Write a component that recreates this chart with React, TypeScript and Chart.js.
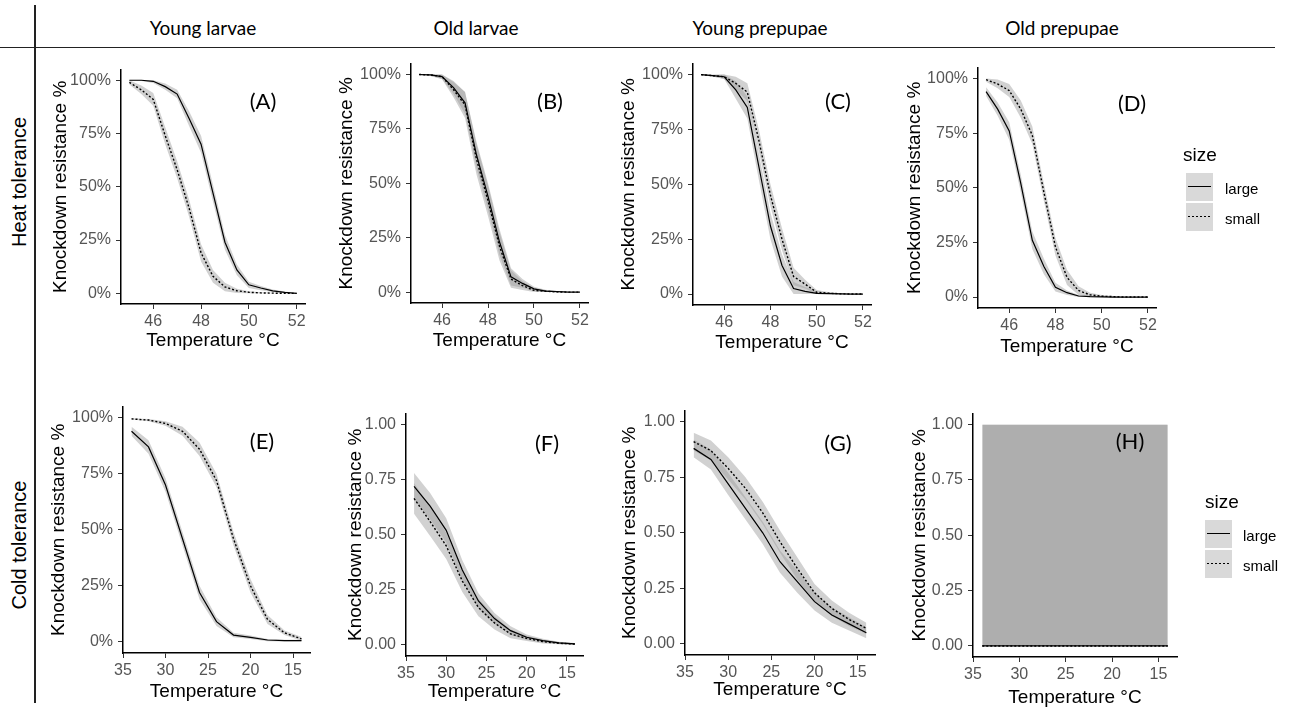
import React, { useEffect, useRef } from 'react';
import { Chart, registerables } from 'chart.js';

Chart.register(...registerables);

// ---------- data ----------
const heatTemps = [45, 45.5, 46, 46.5, 47, 47.5, 48, 48.5, 49, 49.5, 50, 50.5, 51, 51.5, 52];
const coldTemps = [34, 32, 30, 28, 26, 24, 22, 20, 18, 16, 14];
const heatTicks = [46, 48, 50, 52];
const coldTicks = [35, 30, 25, 20, 15];
const yTickValues = [0, 0.25, 0.5, 0.75, 1];
const percentLabels = ['0%', '25%', '50%', '75%', '100%'];
const decimalLabels = ['0.00', '0.25', '0.50', '0.75', '1.00'];
const columnHeaders = ['Young larvae', 'Old larvae', 'Young prepupae', 'Old prepupae'];
const rowHeaders = ['Heat tolerance', 'Cold tolerance'];
const legendLabels = ['large', 'small'];

// (A) heat, young larvae
const aLarge = [1.0, 1.0, 0.995, 0.97, 0.935, 0.82, 0.7, 0.47, 0.24, 0.11, 0.04, 0.025, 0.012, 0.005, 0.0];
const aLargeCI = [0.003, 0.004, 0.008, 0.015, 0.02, 0.035, 0.04, 0.04, 0.035, 0.025, 0.015, 0.01, 0.006, 0.004, 0.002];
const aSmall = [0.99, 0.955, 0.91, 0.74, 0.58, 0.4, 0.19, 0.08, 0.03, 0.012, 0.005, 0.002, 0.001, 0.0, 0.0];
const aSmallCI = [0.01, 0.02, 0.03, 0.04, 0.04, 0.04, 0.04, 0.03, 0.02, 0.01, 0.005, 0.003, 0.002, 0.001, 0.001];
// (B) heat, old larvae
const bLarge = [1.0, 0.998, 0.99, 0.94, 0.87, 0.63, 0.44, 0.23, 0.07, 0.04, 0.015, 0.005, 0.002, 0.0, 0.0];
const bLargeCI = [0.003, 0.005, 0.01, 0.03, 0.05, 0.06, 0.06, 0.06, 0.04, 0.02, 0.01, 0.006, 0.003, 0.001, 0.001];
const bSmall = [1.0, 0.998, 0.99, 0.93, 0.86, 0.61, 0.42, 0.21, 0.06, 0.03, 0.008, 0.004, 0.001, 0.0, 0.0];
const bSmallCI = [0.003, 0.005, 0.012, 0.035, 0.06, 0.07, 0.07, 0.065, 0.04, 0.02, 0.01, 0.006, 0.003, 0.001, 0.001];
// (C) heat, young prepupae
const cLarge = [1.0, 0.995, 0.99, 0.93, 0.85, 0.58, 0.31, 0.13, 0.025, 0.012, 0.003, 0.002, 0.001, 0.0, 0.0];
const cLargeCI = [0.003, 0.004, 0.01, 0.04, 0.05, 0.06, 0.06, 0.05, 0.03, 0.02, 0.01, 0.005, 0.003, 0.001, 0.001];
const cSmall = [1.0, 0.995, 0.99, 0.96, 0.92, 0.7, 0.45, 0.25, 0.08, 0.045, 0.008, 0.004, 0.001, 0.0, 0.0];
const cSmallCI = [0.003, 0.004, 0.01, 0.03, 0.04, 0.05, 0.05, 0.05, 0.04, 0.02, 0.01, 0.005, 0.003, 0.001, 0.001];
// (D) heat, old prepupae
const dLarge = [0.94, 0.86, 0.76, 0.52, 0.26, 0.14, 0.045, 0.02, 0.005, 0.002, 0.001, 0.0, 0.0, 0.0, 0.0];
const dLargeCI = [0.02, 0.03, 0.04, 0.04, 0.04, 0.035, 0.02, 0.01, 0.005, 0.003, 0.002, 0.001, 0.0, 0.0, 0.0];
const dSmall = [0.995, 0.975, 0.945, 0.86, 0.74, 0.48, 0.23, 0.09, 0.03, 0.01, 0.004, 0.002, 0.0, 0.0, 0.0];
const dSmallCI = [0.01, 0.02, 0.03, 0.04, 0.04, 0.04, 0.04, 0.035, 0.02, 0.01, 0.005, 0.003, 0.001, 0.0, 0.0];
// (E) cold, young larvae
const eLarge = [0.94, 0.87, 0.7, 0.46, 0.22, 0.09, 0.03, 0.02, 0.008, 0.005, 0.005];
const eLargeCI = [0.02, 0.03, 0.03, 0.03, 0.03, 0.02, 0.01, 0.008, 0.005, 0.004, 0.004];
const eSmall = [0.995, 0.99, 0.975, 0.94, 0.86, 0.72, 0.46, 0.25, 0.1, 0.04, 0.013];
const eSmallCI = [0.003, 0.005, 0.01, 0.02, 0.03, 0.03, 0.03, 0.03, 0.02, 0.01, 0.008];
// (F) cold, old larvae
const fLarge = [0.72, 0.63, 0.52, 0.34, 0.2, 0.12, 0.065, 0.035, 0.02, 0.01, 0.005];
const fLargeCI = [0.06, 0.06, 0.055, 0.045, 0.035, 0.025, 0.02, 0.012, 0.008, 0.005, 0.004];
const fSmall = [0.665, 0.56, 0.45, 0.29, 0.17, 0.1, 0.05, 0.03, 0.015, 0.008, 0.004];
const fSmallCI = [0.07, 0.065, 0.06, 0.05, 0.04, 0.03, 0.02, 0.012, 0.008, 0.005, 0.004];
// (G) cold, young prepupae
const gLarge = [0.88, 0.83, 0.72, 0.61, 0.5, 0.37, 0.28, 0.19, 0.13, 0.09, 0.05];
const gLargeCI = [0.04, 0.045, 0.05, 0.05, 0.05, 0.05, 0.05, 0.04, 0.035, 0.03, 0.025];
const gSmall = [0.91, 0.87, 0.79, 0.7, 0.59, 0.46, 0.34, 0.23, 0.16, 0.11, 0.07];
const gSmallCI = [0.04, 0.045, 0.05, 0.05, 0.05, 0.05, 0.05, 0.04, 0.035, 0.03, 0.025];
// (H) cold, old prepupae
const hLarge = [0, 0, 0, 0, 0, 0, 0, 0, 0, 0, 0];
const hLargeCI = [1, 1, 1, 1, 1, 1, 1, 1, 1, 1, 1];
const hSmall = [0, 0, 0, 0, 0, 0, 0, 0, 0, 0, 0];
const hSmallCI = [1, 1, 1, 1, 1, 1, 1, 1, 1, 1, 1];

// ---------- layout ----------
const FONT = "'Liberation Sans', Arial, sans-serif";
const LABEL_FONT = "Lato, 'Open Sans', sans-serif";
const PAD = { left: 85, top: 12, right: 30, bottom: 62 };

type PanelDef = {
  letter: string;
  temps: number[];
  large: number[];
  largeCI: number[];
  small: number[];
  smallCI: number[];
  cold: boolean;
  percent: boolean;
  L: number; T: number; R: number; B: number;
  yTitleDx: number;
  xTitleDy: number;
  alpha: number;
  lx: number; ly: number;
};

const panels: PanelDef[] = [
  { letter: '(A)', temps: heatTemps, large: aLarge, largeCI: aLargeCI, small: aSmall, smallCI: aSmallCI, cold: false, percent: true, L: 121, T: 67, R: 305, B: 304, yTitleDx: 60, xTitleDy: 37, alpha: 0.45, lx: 263, ly: 100 },
  { letter: '(B)', temps: heatTemps, large: bLarge, largeCI: bLargeCI, small: bSmall, smallCI: bSmallCI, cold: false, percent: true, L: 411, T: 61, R: 588, B: 303, yTitleDx: 64, xTitleDy: 38, alpha: 0.45, lx: 550, ly: 100 },
  { letter: '(C)', temps: heatTemps, large: cLarge, largeCI: cLargeCI, small: cSmall, smallCI: cSmallCI, cold: false, percent: true, L: 693, T: 61, R: 871, B: 305, yTitleDx: 64, xTitleDy: 38, alpha: 0.45, lx: 838, ly: 100 },
  { letter: '(D)', temps: heatTemps, large: dLarge, largeCI: dLargeCI, small: dSmall, smallCI: dSmallCI, cold: false, percent: true, L: 978, T: 65, R: 1156, B: 308, yTitleDx: 63, xTitleDy: 39, alpha: 0.45, lx: 1132, ly: 102 },
  { letter: '(E)', temps: coldTemps, large: eLarge, largeCI: eLargeCI, small: eSmall, smallCI: eSmallCI, cold: true, percent: true, L: 123, T: 404, R: 310, B: 653, yTitleDx: 64, xTitleDy: 39, alpha: 0.45, lx: 262, ly: 440 },
  { letter: '(F)', temps: coldTemps, large: fLarge, largeCI: fLargeCI, small: fSmall, smallCI: fSmallCI, cold: true, percent: false, L: 406, T: 411, R: 583, B: 656, yTitleDx: 50, xTitleDy: 36, alpha: 0.45, lx: 547, ly: 442 },
  { letter: '(G)', temps: coldTemps, large: gLarge, largeCI: gLargeCI, small: gSmall, smallCI: gSmallCI, cold: true, percent: false, L: 685, T: 408, R: 875, B: 655, yTitleDx: 55, xTitleDy: 35, alpha: 0.45, lx: 838, ly: 442 },
  { letter: '(H)', temps: coldTemps, large: hLarge, largeCI: hLargeCI, small: hSmall, smallCI: hSmallCI, cold: true, percent: false, L: 973, T: 411, R: 1177, B: 657, yTitleDx: 53, xTitleDy: 41, alpha: 0.55, lx: 1130, ly: 440 },
];

function Panel({ p }: { p: PanelDef }) {
  const ref = useRef<HTMLCanvasElement>(null);
  const width = p.R - p.L + PAD.left + PAD.right;
  const height = p.B - p.T + PAD.top + PAD.bottom;

  useEffect(() => {
    if (!ref.current) return;
    const pts = (ys: number[]) => p.temps.map((t, i) => ({ x: t, y: ys[i] }));
    const hi = (v: number[], c: number[]) => v.map((x, i) => Math.min(1, x + c[i]));
    const lo = (v: number[], c: number[]) => v.map((x, i) => Math.max(0, x - c[i]));
    const fillColor = `rgba(153,153,153,${p.alpha})`;
    const clear = 'rgba(0,0,0,0)';
    const xTicks = p.cold ? coldTicks : heatTicks;
    const yLabels = p.percent ? percentLabels : decimalLabels;

    const chart = new Chart(ref.current, {
      type: 'line',
      data: {
        datasets: [
          { label: legendLabels[0], data: pts(p.large), borderColor: '#000', borderWidth: 1.2, pointRadius: 0, fill: false, order: 0 } as any,
          { label: legendLabels[1], data: pts(p.small), borderColor: '#000', borderWidth: 1.4, borderDash: [2, 2], pointRadius: 0, fill: false, order: 0 } as any,
          { label: 'large upper', data: pts(hi(p.large, p.largeCI)), borderColor: clear, borderWidth: 0, pointRadius: 0, backgroundColor: fillColor, fill: 3, order: 1 } as any,
          { label: 'large lower', data: pts(lo(p.large, p.largeCI)), borderColor: clear, borderWidth: 0, pointRadius: 0, fill: false, order: 1 } as any,
          { label: 'small upper', data: pts(hi(p.small, p.smallCI)), borderColor: clear, borderWidth: 0, pointRadius: 0, backgroundColor: fillColor, fill: 5, order: 1 } as any,
          { label: 'small lower', data: pts(lo(p.small, p.smallCI)), borderColor: clear, borderWidth: 0, pointRadius: 0, fill: false, order: 1 } as any,
        ],
      },
      options: {
        animation: false,
        responsive: false,
        devicePixelRatio: 1,
        layout: { padding: { left: 0, top: PAD.top, right: PAD.right, bottom: 0 }, autoPadding: false } as any,
        plugins: { legend: { display: false }, tooltip: { enabled: false } },
        scales: {
          x: {
            type: 'linear',
            min: p.cold ? 13 : 44.65,
            max: p.cold ? 35 : 52.35,
            reverse: p.cold,
            afterBuildTicks: (s: any) => { s.ticks = xTicks.map((v) => ({ value: v })); },
            afterFit: (s: any) => { s.height = PAD.bottom; },
            ticks: { color: '#555555', font: { family: FONT, size: 16 }, padding: 3, maxRotation: 0, autoSkip: false, callback: (v: any) => String(v) },
            grid: { display: true, drawOnChartArea: false, drawTicks: true, tickLength: 5, color: '#333', lineWidth: 1 },
            border: { display: true, color: '#000', width: 1.5 },
            title: { display: true, text: 'Temperature °C', color: '#000', font: { family: FONT, size: 19 }, padding: { top: 0, bottom: PAD.bottom - p.xTitleDy - 11.4 } },
          },
          y: {
            type: 'linear',
            min: -0.05,
            max: 1.05,
            afterBuildTicks: (s: any) => { s.ticks = yTickValues.map((v) => ({ value: v })); },
            afterFit: (s: any) => { s.width = PAD.left; },
            ticks: { color: '#555555', font: { family: FONT, size: 16 }, padding: 5, callback: (_v: any, i: number) => yLabels[i] },
            grid: { display: true, drawOnChartArea: false, drawTicks: true, tickLength: 5, color: '#333', lineWidth: 1 },
            border: { display: true, color: '#000', width: 1.5 },
            title: { display: true, text: 'Knockdown resistance %', color: '#000', font: { family: FONT, size: 19 }, padding: { top: PAD.left - p.yTitleDx - 11.4, bottom: 0 } },
          },
        },
      } as any,
    });
    return () => chart.destroy();
  }, [p]);

  return (
    <>
      <canvas
        ref={ref}
        width={width}
        height={height}
        style={{ position: 'absolute', left: p.L - PAD.left, top: p.T - PAD.top, width, height }}
      />
      <div style={{ position: 'absolute', left: p.lx, top: p.ly, transform: 'translate(-50%,-50%)', font: `22px ${LABEL_FONT}`, color: '#000', whiteSpace: 'nowrap' }}>{p.letter}</div>
    </>
  );
}

function Legend({ x, y, kx, ky1, ky2, tx }: { x: number; y: number; kx: number; ky1: number; ky2: number; tx: number }) {
  const box = (top: number, dotted: boolean) => (
    <div style={{ position: 'absolute', left: kx, top, width: 27, height: 28, background: '#D9D9D9' }}>
      <div
        style={{
          position: 'absolute', left: 2, right: 2, top: 13, height: dotted ? 1.4 : 1.3,
          background: dotted ? 'repeating-linear-gradient(to right, #000 0 2px, transparent 2px 4px)' : '#000',
        }}
      />
    </div>
  );
  const label = (text: string, cy: number) => (
    <div style={{ position: 'absolute', left: tx, top: cy, transform: 'translateY(-50%)', font: `15px ${FONT}`, color: '#000', whiteSpace: 'nowrap' }}>{text}</div>
  );
  return (
    <>
      <div style={{ position: 'absolute', left: x, top: y, transform: 'translateY(-50%)', font: `19px ${FONT}`, color: '#000' }}>size</div>
      {box(ky1, false)}
      {box(ky2, true)}
      {label(legendLabels[0], ky1 + 15)}
      {label(legendLabels[1], ky2 + 15)}
    </>
  );
}

const headerX = [203, 476, 760, 1062];
const rowY = [182, 545];

export default function App() {
  return (
    <div style={{ position: 'absolute', left: 0, top: 0, width: 1292, height: 708, background: '#fff', overflow: 'hidden' }}>
      <div style={{ position: 'absolute', left: 34, top: 5, width: 1.5, height: 698, background: '#222' }} />
      <div style={{ position: 'absolute', left: 0, top: 46.5, width: 1275, height: 1.5, background: '#222' }} />
      {columnHeaders.map((h, i) => (
        <div key={h} style={{ position: 'absolute', left: headerX[i], top: 27, transform: 'translate(-50%,-50%)', font: `19px ${LABEL_FONT}`, color: '#000', whiteSpace: 'nowrap' }}>{h}</div>
      ))}
      {rowHeaders.map((h, i) => (
        <div key={h} style={{ position: 'absolute', left: 19, top: rowY[i], transform: 'translate(-50%,-50%) rotate(-90deg)', font: `20px ${FONT}`, color: '#000', whiteSpace: 'nowrap' }}>{h}</div>
      ))}
      {panels.map((p) => <Panel key={p.letter} p={p} />)}
      <Legend x={1183} y={155} kx={1186} ky1={173} ky2={203} tx={1225} />
      <Legend x={1205} y={502} kx={1205} ky1={520} ky2={550} tx={1243} />
    </div>
  );
}
